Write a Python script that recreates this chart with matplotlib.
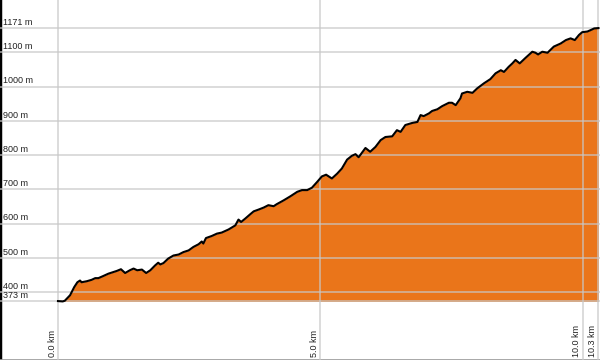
import matplotlib
matplotlib.use("Agg")
import matplotlib.pyplot as plt
import matplotlib.transforms as mtransforms

# elevation profile, distance in km / altitude in m
dist_km = [0.0, 0.09, 0.13, 0.23, 0.31, 0.37, 0.42, 0.45, 0.55, 0.64, 0.71, 0.77,
           0.86, 0.96, 1.06, 1.12, 1.20, 1.28, 1.37, 1.44, 1.51, 1.60, 1.68, 1.76,
           1.85, 1.91, 1.95, 2.01, 2.10, 2.20, 2.30, 2.39, 2.49, 2.58, 2.68, 2.74,
           2.77, 2.82, 2.93, 3.03, 3.12, 3.25, 3.38, 3.44, 3.49, 3.57, 3.66, 3.73,
           3.82, 3.92, 4.01, 4.11, 4.17, 4.30, 4.43, 4.56, 4.65, 4.75, 4.84, 4.94,
           5.03, 5.11, 5.22, 5.32, 5.41, 5.51, 5.60, 5.67, 5.73, 5.86, 5.95, 6.05,
           6.15, 6.24, 6.37, 6.46, 6.53, 6.62, 6.75, 6.85, 6.91, 6.97, 7.07, 7.13,
           7.23, 7.32, 7.45, 7.51, 7.58, 7.67, 7.70, 7.80, 7.90, 7.99, 8.12, 8.24,
           8.34, 8.44, 8.50, 8.59, 8.66, 8.72, 8.80, 8.91, 9.04, 9.10, 9.15, 9.23,
           9.33, 9.45, 9.58, 9.68, 9.77, 9.85, 9.93, 9.99, 10.09, 10.15, 10.22, 10.30]
elev_m = [374, 373, 375, 391, 415, 429, 434, 429, 432, 436, 441, 441,
          447, 454, 459, 462, 467, 456, 464, 469, 464, 466, 456, 464,
          478, 486, 481, 485, 498, 507, 510, 517, 522, 532, 540, 548,
          542, 558, 564, 571, 574, 583, 595, 612, 605, 615, 627, 636,
          641, 647, 654, 651, 657, 668, 680, 693, 698, 698, 705, 722,
          738, 743, 732, 746, 761, 787, 798, 803, 794, 821, 810, 824,
          844, 853, 855, 873, 868, 888, 894, 897, 917, 914, 922, 929,
          934, 943, 953, 953, 946, 966, 980, 985, 982, 995, 1010, 1022,
          1039, 1048, 1043, 1058, 1068, 1078, 1068, 1084, 1102, 1099, 1094, 1102,
          1099, 1117, 1126, 1136, 1141, 1136, 1151, 1159, 1161, 1165, 1170, 1171]

y_ticks = [373, 400, 500, 600, 700, 800, 900, 1000, 1100, 1171]
y_labels = ["373 m", "400 m", "500 m", "600 m", "700 m", "800 m", "900 m",
            "1000 m", "1100 m", "1171 m"]
x_ticks = [0.0, 5.0, 10.0, 10.3]
x_labels = ["0.0 km", "5.0 km", "10.0 km", "10.3 km"]

FILL = "#EA751A"
FONT = "Liberation Sans"

fig = plt.figure(figsize=(6, 3.6), dpi=100)
ax = fig.add_axes([0, 0, 1, 1])

base = min(y_ticks)
ax.fill_between(dist_km, elev_m, base, color=FILL, lw=0, zorder=1)
ax.plot(dist_km, elev_m, color="black", lw=1.5, zorder=4, solid_joinstyle="round")

ax.set_xlim(-1.105, 10.33)
ax.set_ylim(202, 1253)

ax.set_xticks(x_ticks)
ax.set_yticks(y_ticks)
ax.set_axisbelow(False)
ax.grid(True, color="#c8c8c8", lw=1.2, alpha=0.75, zorder=2)
ax.tick_params(length=0, labelleft=False, labelbottom=False)

for side in ["top", "right"]:
    ax.spines[side].set_visible(False)
ax.spines["left"].set_color("black")
ax.spines["left"].set_linewidth(2.5)
ax.spines["bottom"].set_color("#999999")
ax.spines["bottom"].set_linewidth(1.2)

# y labels sit inside the plot, just above their gridline
ytrans = mtransforms.blended_transform_factory(ax.transAxes, ax.transData)
for v, lab in zip(y_ticks, y_labels):
    ax.annotate(lab, xy=(0.005, v), xycoords=ytrans, xytext=(0, 1),
                textcoords="offset points", ha="left", va="bottom",
                fontsize=6.5, family=FONT, color="#222222")

# x labels rotated, left of their gridline at the bottom
xtrans = mtransforms.blended_transform_factory(ax.transData, ax.transAxes)
for v, lab in zip(x_ticks, x_labels):
    ax.annotate(lab, xy=(v, 0.0), xycoords=xtrans, xytext=(-1, 2.5),
                textcoords="offset points", ha="right", va="bottom",
                rotation=90, fontsize=6.5, family=FONT, color="#222222")

fig.savefig("out.png", dpi=100)
